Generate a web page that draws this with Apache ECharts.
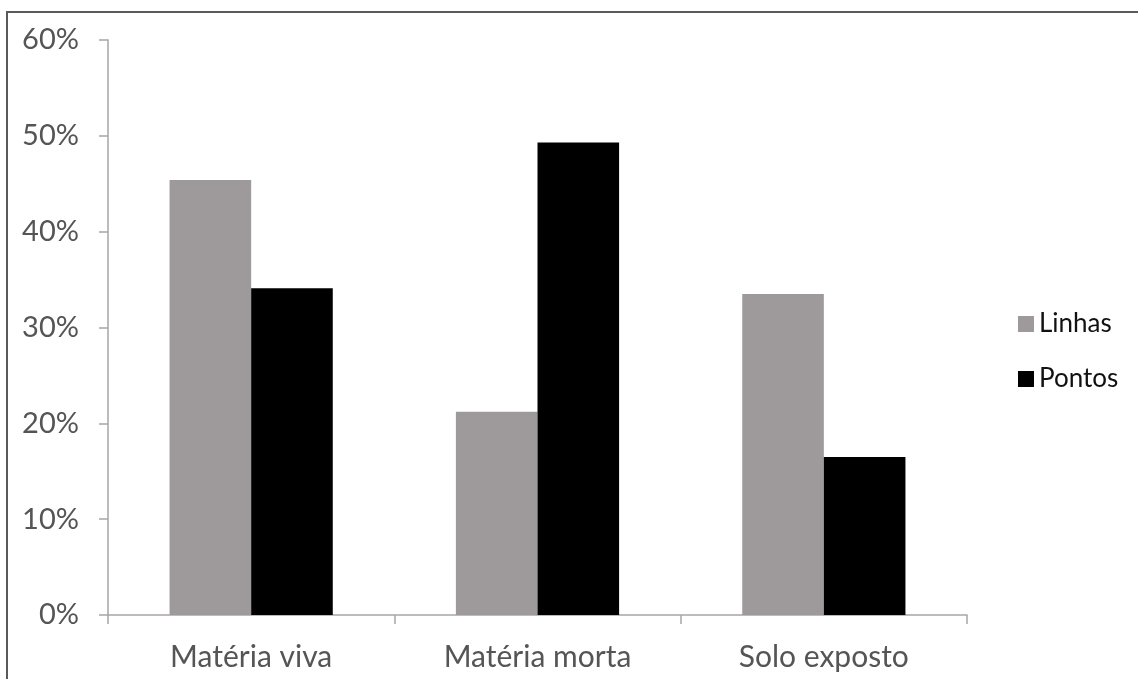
<!DOCTYPE html>
<html>
<head>
<meta charset="utf-8">
<script src="https://cdn.jsdelivr.net/npm/echarts@6/dist/echarts.min.js"></script>
<style>
  html, body { margin: 0; padding: 0; background: #ffffff; }
  #chart { width: 1138px; height: 679px; }
</style>
</head>
<body>
<div id="chart"></div>
<script>
// Ground-cover composition by sampling method
const categories = ['Matéria viva', 'Matéria morta', 'Solo exposto'];
const seriesNames = ['Linhas', 'Pontos'];
const linhas = [45.4, 21.2, 33.5];
const pontos = [34.1, 49.3, 16.5];
const yTicks = [0, 10, 20, 30, 40, 50, 60];

const FONT = 'Lato, "Open Sans", sans-serif';

const chart = echarts.init(document.getElementById('chart'));
chart.setOption({
  animation: false,
  backgroundColor: '#ffffff',
  textStyle: { fontFamily: FONT },
  graphic: [
    { type: 'line', shape: { x1: 6, y1: 12, x2: 1138, y2: 12 }, style: { stroke: '#5a5a5a', lineWidth: 2 } },
    { type: 'line', shape: { x1: 7, y1: 11, x2: 7, y2: 679 }, style: { stroke: '#5a5a5a', lineWidth: 2 } }
  ],
  grid: { left: 108, right: 171, top: 40, bottom: 64 },
  legend: {
    orient: 'vertical',
    left: 1013,
    top: 306,
    itemWidth: 16,
    itemHeight: 16,
    itemGap: 29,
    icon: 'rect',
    textStyle: { fontFamily: FONT, fontSize: 26, lineHeight: 26, color: '#111111' },
    data: seriesNames
  },
  xAxis: {
    type: 'category',
    data: categories,
    axisLine: { lineStyle: { color: '#a6a6a6', width: 1.5 } },
    axisTick: { show: true, length: 9, alignWithLabel: false, lineStyle: { color: '#a6a6a6', width: 1.5 } },
    axisLabel: { margin: 27, fontSize: 30, color: '#555555', fontFamily: FONT }
  },
  yAxis: {
    type: 'value',
    min: 0,
    max: 60,
    interval: 10,
    axisLine: { show: true, lineStyle: { color: '#a6a6a6', width: 1.5 } },
    axisTick: { show: true, length: 9, lineStyle: { color: '#a6a6a6', width: 1.5 } },
    splitLine: { show: false },
    axisLabel: {
      margin: 29,
      fontSize: 29,
      color: '#555555',
      fontFamily: FONT,
      formatter: function (v) { return yTicks.indexOf(v) >= 0 ? v + '%' : ''; }
    }
  },
  series: [
    {
      name: seriesNames[0],
      type: 'bar',
      data: linhas,
      itemStyle: { color: '#9e9a9b' },
      barGap: '0%',
      barCategoryGap: '43%'
    },
    {
      name: seriesNames[1],
      type: 'bar',
      data: pontos,
      itemStyle: { color: '#000000' },
      barGap: '0%',
      barCategoryGap: '43%'
    }
  ]
});
</script>
</body>
</html>
